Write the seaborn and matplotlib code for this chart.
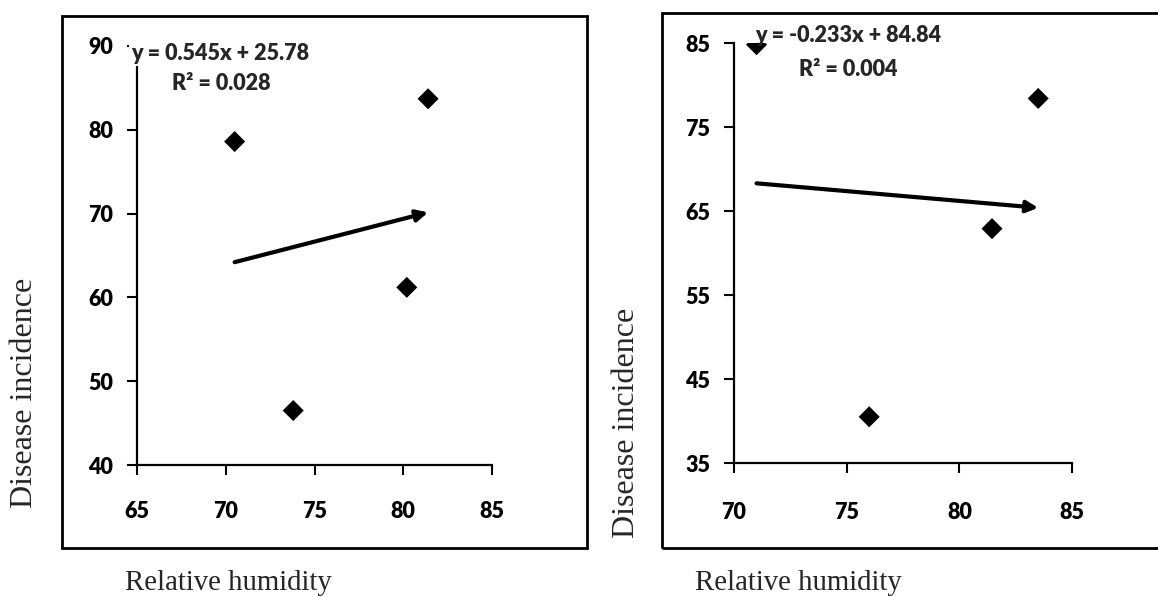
import numpy as np
import pandas as pd
import seaborn as sns
import matplotlib.pyplot as plt
from matplotlib.patches import Rectangle

# Site 1: relative humidity vs disease incidence
rh_a = [70.5, 73.8, 80.2, 81.4]
di_a = [78.6, 46.5, 61.2, 83.7]
slope_a, icpt_a, r2_a = 0.545, 25.78, 0.028

# Site 2
rh_b = [71.0, 76.0, 81.45, 83.5]
di_b = [84.8, 40.5, 62.9, 78.4]
slope_b, icpt_b, r2_b = -0.233, 84.84, 0.004

xticks_a = [65, 70, 75, 80, 85]
yticks_a = [40, 50, 60, 70, 80, 90]
xticks_b = [70, 75, 80, 85]
yticks_b = [35, 45, 55, 65, 75, 85]

sns.set_style("ticks")
plt.rcParams["font.family"] = ["Lato", "DejaVu Sans"]
plt.rcParams["font.weight"] = "heavy"

W, H = 1158, 597
fig = plt.figure(figsize=(W / 100, H / 100), dpi=100)


def px_rect(x0, y0, x1, y1):
    # convert a pixel box (top-left origin) to figure fractions
    return [x0 / W, 1 - y1 / H, (x1 - x0) / W, (y1 - y0) / H]


# outer frames around each chart
for (x0, y0, x1, y1) in [(62, 16, 587, 548), (662, 13, 1175, 548)]:
    fig.patches.append(Rectangle((x0 / W, 1 - y1 / H), (x1 - x0) / W, (y1 - y0) / H,
                                 transform=fig.transFigure, fill=False,
                                 edgecolor="black", linewidth=2.0, zorder=0))

ax_a = fig.add_axes(px_rect(137, 46, 492, 465))
ax_b = fig.add_axes(px_rect(734, 43, 1072, 463))


def draw(ax, rh, di, slope, icpt, r2, xt, yt, xpad, eq1_xy, eq2_xy, eq_box):
    df = pd.DataFrame({"rh": rh, "di": di})
    sns.scatterplot(data=df, x="rh", y="di", ax=ax, marker="D", s=115,
                    color="black", edgecolor="none", zorder=3)
    x0, x1 = min(rh), max(rh)
    ax.annotate("", xy=(x1, slope * x1 + icpt), xytext=(x0, slope * x0 + icpt),
                arrowprops=dict(arrowstyle="-|>", color="black", lw=3.0,
                                mutation_scale=17, shrinkA=0, shrinkB=0),
                zorder=2)
    ax.set_xlim(xt[0], xt[-1])
    ax.set_ylim(yt[0], yt[-1])
    ax.set_xticks(xt)
    ax.set_yticks(yt)
    ax.set_xticklabels([str(v) for v in xt], fontweight="heavy")
    ax.set_yticklabels([str(v) for v in yt], fontweight="heavy")
    ax.set_xlabel("")
    ax.set_ylabel("")
    sns.despine(ax=ax)
    for s in ("left", "bottom"):
        ax.spines[s].set_linewidth(1.6)
        ax.spines[s].set_color("black")
    ax.tick_params(axis="both", length=7, width=1.5, labelsize=15.5, colors="black")
    ax.tick_params(axis="y", pad=10)
    ax.tick_params(axis="x", pad=xpad)
    ax.patch.set_alpha(0)
    sign = "-" if slope < 0 else ""
    kw = dict(fontsize=15.5, fontweight="heavy", ha="center", va="center",
              transform=fig.transFigure, zorder=5)
    box = dict(facecolor="white", edgecolor="none", pad=1.5) if eq_box else None
    fig.text(eq1_xy[0] / W, 1 - eq1_xy[1] / H,
             f"y = {sign}{abs(slope):.3f}x + {icpt:.2f}", bbox=box, **kw)
    fig.text(eq2_xy[0] / W, 1 - eq2_xy[1] / H, f"R\u00b2 = {r2:.3f}", **kw)


draw(ax_a, rh_a, di_a, slope_a, icpt_a, r2_a, xticks_a, yticks_a, 19,
     (220, 53), (221, 83), True)
draw(ax_b, rh_b, di_b, slope_b, icpt_b, r2_b, xticks_b, yticks_b, 21,
     (848, 35), (848, 69), False)

serif = ["Liberation Serif", "DejaVu Serif"]
for cx in (228, 798):
    fig.text(cx / W, 1 - 583 / H, "Relative humidity", family=serif, fontsize=20.7,
             fontweight="normal", ha="center", va="center")
fig.text(25 / W, 1 - 393 / H, "Disease incidence", family=serif, fontsize=23,
         fontweight="normal", rotation=90, ha="center", va="center")
fig.text(627 / W, 1 - 423 / H, "Disease incidence", family=serif, fontsize=23,
         fontweight="normal", rotation=90, ha="center", va="center")

fig.savefig("out.png", dpi=100, facecolor="white")
